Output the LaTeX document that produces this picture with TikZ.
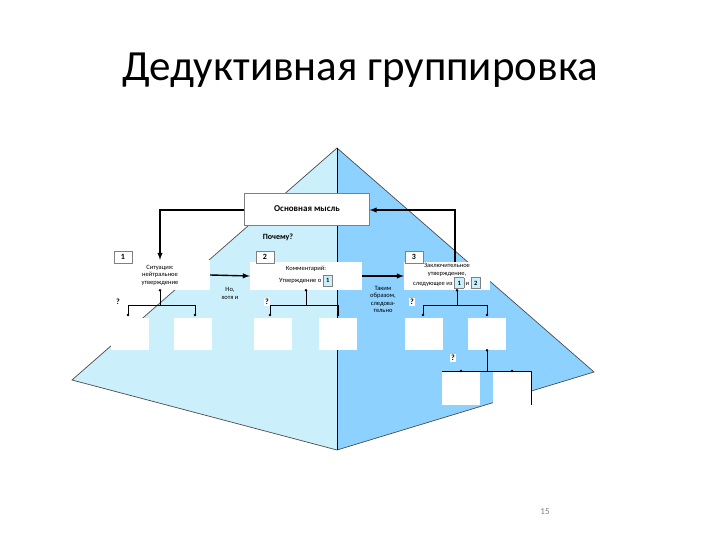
\documentclass[tikz,border=0pt]{standalone}
\usepackage{fontspec}
\setmainfont{Carlito}
\begin{document}
\begin{tikzpicture}[x=1pt,y=-1pt,
  wb/.style={fill=white,inner sep=1pt,font=\fontsize{6.5}{7.5}\selectfont,align=center},
  nb/.style={draw=gray,fill=white,font=\bfseries\fontsize{8}{9}\selectfont,minimum width=18pt,minimum height=12pt,inner sep=1pt},
  cb/.style={fill=white,minimum width=38pt,minimum height=32pt,inner sep=0pt},
  arr/.style={-latex,line width=1.4pt},
  ln/.style={line width=0.7pt},
  dot/.style={circle,fill=black,inner sep=0pt,minimum size=2.8pt}]
\useasboundingbox (0,0) rectangle (720,540);
\fill[white] (0,0) rectangle (720,540);
\node[font=\fontsize{43}{48}\selectfont] (title) at (360,70) {Дедуктивная группировка};
\fill[cyan!20] (337,148) -- (72,380) -- (337,450) -- cycle;
\fill[blue!40!cyan!45] (337,148) -- (594,372) -- (337,450) -- cycle;
\draw[black!70,ln] (337,148) -- (72,380) -- (337,450) -- (594,372) -- cycle;
\draw[ln] (337,148) -- (337,450);
% main
\node[draw=gray,fill=white,minimum width=125pt,minimum height=32pt,font=\bfseries\fontsize{9}{10}\selectfont] (main) at (307,209) {Основная мысль};
\node[font=\bfseries\fontsize{8}{9}\selectfont] (why) at (278,237) {Почему?};
% boxes
\node[wb,minimum width=100pt,minimum height=30pt] (b1) at (160,275) {Ситуация:\\нейтральное\\утверждение};
\node[wb,minimum width=112pt,minimum height=28pt] (b2) at (306,276) {Комментарий:\\[3pt]Утверждение о \fcolorbox{gray}{cyan!20}{\bfseries 1}};
\node[wb,minimum width=86pt,minimum height=28pt] (b3) at (447,276) {Заключительное\\утверждение,\\следующее из \fcolorbox{gray}{cyan!20}{\bfseries 1} и \fcolorbox{gray}{cyan!20}{\bfseries 2}};
\node[nb] (n1) at (123,257) {1};
\node[nb] (n2) at (265,257) {2};
\node[nb] (n3) at (414,257) {3};
\draw[arr] (b1.east) -- node[below=8pt,font=\fontsize{6.5}{7.5}\selectfont,align=center]{Но,\\хотя и} (b2.west);
\draw[arr] (b2.east) -- node[below=6pt,font=\fontsize{6.5}{7.5}\selectfont,align=center]{Таким\\образом,\\следова-\\тельно} (b3.west);
\coordinate (t1) at (160,210);
\coordinate (t3) at (455,210);
\draw[arr] (main.west |- t1) -| (b1.north);
\draw[arr] (b3.north -| t3) |- (main.east |- t3);
% trees
\foreach \b/\x/\l/\r/\cl/\cr/\q in {b1/160/128/195/130/193/118, b2/306/270/338/273/338/267, b3/457/423/487/424/487/412}{
  \coordinate (s\b) at (\x,305);
  \draw[ln] (\b.south -| s\b) node[dot]{} -- (s\b);
  \draw[ln] (\l,305) -- (\r,305);
  \draw[ln] (\l,305) -- (\l,315) node[dot]{};
  \draw[ln] (\r,305) -- (\r,315) node[dot]{};
  \node[cb] (c\b l) at (\cl,334) {};
  \node[cb] (c\b r) at (\cr,334) {};
  \node[fill=white,inner sep=1pt,font=\bfseries\fontsize{8}{9}\selectfont] at (\q,302) {?};
}
\draw[ln] (cb3r.south) node[dot]{} -- (487,371);
\node[cb,minimum height=34pt] (d1) at (461,388) {};
\node[cb,minimum height=34pt] (d2) at (512,388) {};
\draw[ln] (442,371) -- (531,371) -- (531,405);
\node[dot] at (461,371) {};
\node[dot] at (512,371) {};
\node[fill=white,inner sep=1pt,font=\bfseries\fontsize{8}{9}\selectfont] (q4) at (453,358) {?};
\node[font=\fontsize{9}{10}\selectfont,gray] (pg) at (545,512) {15};
\end{tikzpicture}
\end{document}
